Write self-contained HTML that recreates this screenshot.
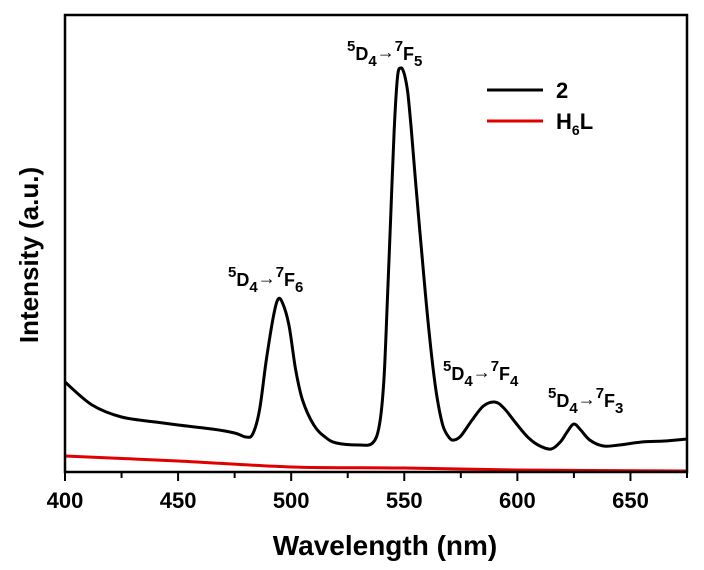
<!DOCTYPE html>
<html><head><meta charset="utf-8"><style>
body{margin:0;background:#fff;}
svg text{font-family:"Liberation Sans",Arial,sans-serif;}
</style></head><body>
<svg width="704" height="565">
<g id="plot"></g>
</svg>
<script>
const wl2=[400,412,425,440,450,465,475,480,483,486,489,492,494,496,499,502,505,510,515,520,530,536,539,541,542.5,544,545.5,547,548.5,550,551.5,553,555,558,561,564,567,570,572,575,580,585,590,594,600,605,610,615,619,622,625,628,632,638,645,655,665,675];
const int2=[90,67,55,50,47,43,39,35,38,62,112,154,172,170,147,102,72,47,35,29,27,29,47,92,170,255,340,395,404,398,380,345,290,212,139,82,47,34,32,36,52,66,70,64,47,34,26,23,30,40,48,42,32,26,27,30,31,33];
const wlL=[400,450,500,550,600,675];
const intL=[16,11,5,4,2,1];
const xTicks=[400,450,500,550,600,650];
const L=65,R=687,T=15,B=472;
const xs=w=>L+(w-400)/(675-400)*(R-L);
const ys=v=>B-v/457*(B-T);
const NS="http://www.w3.org/2000/svg";
const svg=document.querySelector('svg');
function mk(t,a,p){const e=document.createElementNS(NS,t);for(const k in a)e.setAttribute(k,a[k]);(p||svg).appendChild(e);return e;}
function path(wl,iv,col,name){
const pts=wl.map((w,i)=>[xs(w),ys(iv[i])]);
let d='M'+pts[0][0].toFixed(1)+','+pts[0][1].toFixed(1);
for(let i=0;i<pts.length-1;i++){
const p0=pts[Math.max(0,i-1)],p1=pts[i],p2=pts[i+1],p3=pts[Math.min(pts.length-1,i+2)];
const c1=[p1[0]+(p2[0]-p0[0])/6,p1[1]+(p2[1]-p0[1])/6],c2=[p2[0]-(p3[0]-p1[0])/6,p2[1]-(p3[1]-p1[1])/6];
d+='C'+c1[0].toFixed(1)+','+c1[1].toFixed(1)+' '+c2[0].toFixed(1)+','+c2[1].toFixed(1)+' '+p2[0].toFixed(1)+','+p2[1].toFixed(1);}
const p=mk('path',{d:d,fill:'none',stroke:col,'stroke-width':3,'stroke-linejoin':'round'});

}
path(wlL,intL,'#e00000','series-h6l');
path(wl2,int2,'#000','series-2');
const fr=mk('rect',{x:L,y:T,width:R-L,height:B-T,fill:'none',stroke:'#000','stroke-width':2.5});


for(let w=400;w<=675;w+=25){const major=w%50==0;
const t=mk('line',{x1:xs(w),x2:xs(w),y1:B,y2:B+(major?9:6),stroke:'#000','stroke-width':2});

}
xTicks.forEach(w=>{const t=mk('text',{x:xs(w),y:508,'text-anchor':'middle','font-size':22,'font-weight':'bold'});t.textContent=w;

});
</script>
<svg width="704" height="565" style="position:absolute;left:0;top:0">
<text x="385" y="555" text-anchor="middle" font-size="28" font-weight="bold">Wavelength (nm)</text>
<text transform="translate(38,255) rotate(-90)" text-anchor="middle" font-size="26" font-weight="bold">Intensity (a.u.)</text>
<g font-size="18" font-weight="bold">
<text x="347" y="60"><tspan font-size="15" dy="-9">5</tspan><tspan dy="9">D</tspan><tspan font-size="15" dy="6">4</tspan><tspan font-weight="normal" dy="-8">→</tspan><tspan font-size="15" dy="-7">7</tspan><tspan dy="9">F</tspan><tspan font-size="15" dy="6">5</tspan></text>
<text x="228" y="286"><tspan font-size="15" dy="-9">5</tspan><tspan dy="9">D</tspan><tspan font-size="15" dy="6">4</tspan><tspan font-weight="normal" dy="-8">→</tspan><tspan font-size="15" dy="-7">7</tspan><tspan dy="9">F</tspan><tspan font-size="15" dy="6">6</tspan></text>
<text x="443" y="380"><tspan font-size="15" dy="-9">5</tspan><tspan dy="9">D</tspan><tspan font-size="15" dy="6">4</tspan><tspan font-weight="normal" dy="-8">→</tspan><tspan font-size="15" dy="-7">7</tspan><tspan dy="9">F</tspan><tspan font-size="15" dy="6">4</tspan></text>
<text x="548" y="407"><tspan font-size="15" dy="-9">5</tspan><tspan dy="9">D</tspan><tspan font-size="15" dy="6">4</tspan><tspan font-weight="normal" dy="-8">→</tspan><tspan font-size="15" dy="-7">7</tspan><tspan dy="9">F</tspan><tspan font-size="15" dy="6">3</tspan></text>
</g>
<g>
<line x1="487" y1="90" x2="543" y2="90" stroke="#000" stroke-width="3"/>
<text x="556" y="98" font-size="22" font-weight="bold">2</text>
<line x1="487" y1="121" x2="543" y2="121" stroke="#e00000" stroke-width="3"/>
<text x="556" y="129" font-size="22" font-weight="bold">H<tspan font-size="14" dy="6">6</tspan><tspan dy="-6">L</tspan></text>
</g>
</svg>
</body></html>
